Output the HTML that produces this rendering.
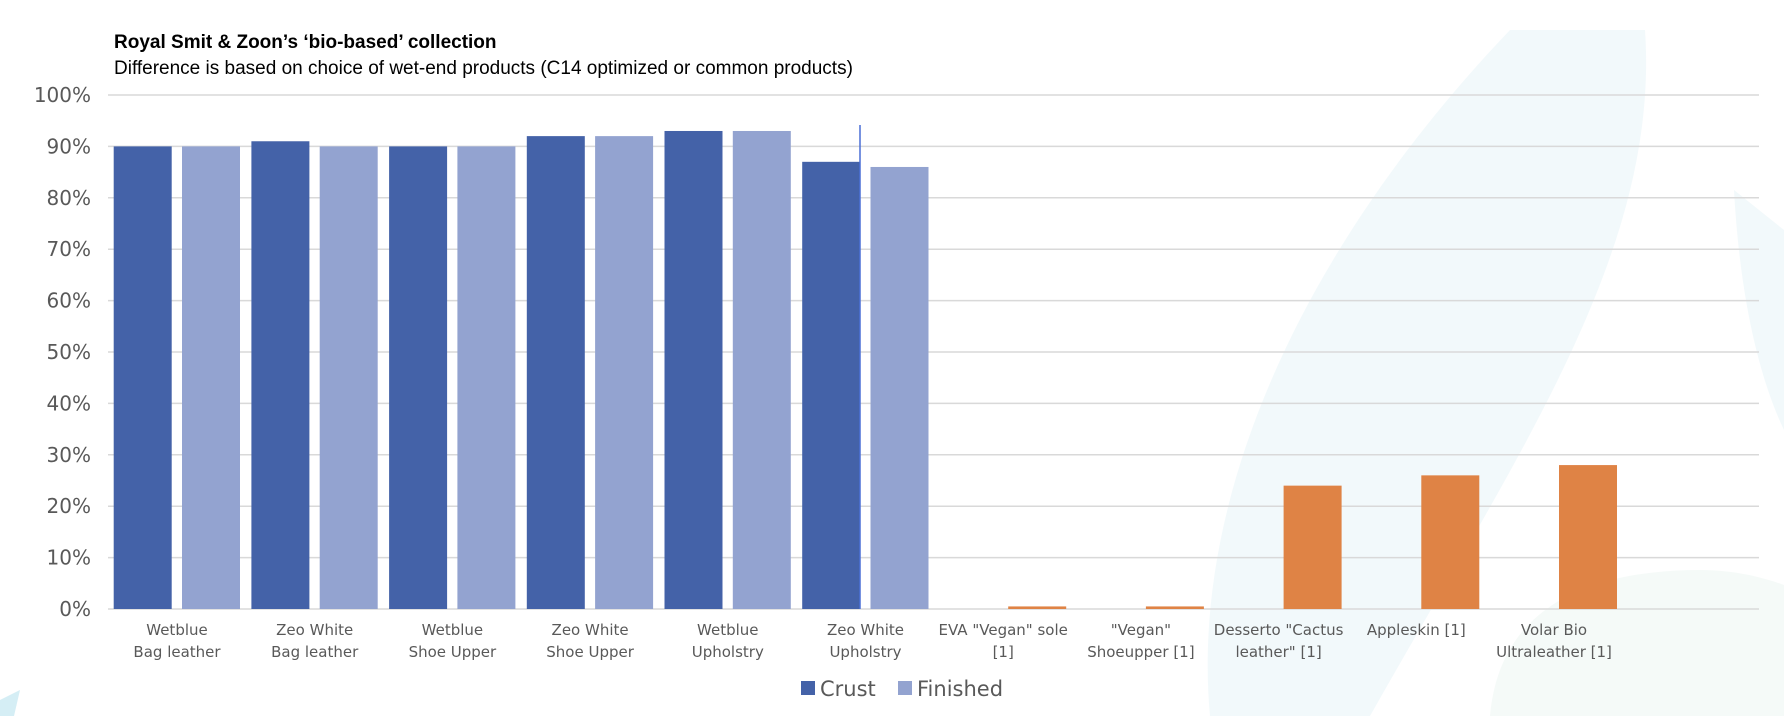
<!DOCTYPE html>
<html><head><meta charset="utf-8"><style>
html,body{margin:0;padding:0;background:#fff;width:1784px;height:716px;overflow:hidden;}
svg{display:block;font-family:"DejaVu Sans","Liberation Sans",sans-serif;}
</style></head><body>
<svg id="chart" width="1784" height="716" viewBox="0 0 1784 716" xmlns="http://www.w3.org/2000/svg">
<g>
<path d="M1510 30 L1645 30 C1660 250 1520 450 1370 716 L1210 716 C1190 500 1300 250 1510 30 Z" fill="#eaf5f9" opacity="0.6"/>
<path d="M1734 190 L1784 230 L1784 430 C1760 380 1740 300 1734 190 Z" fill="#eaf5f9" opacity="0.6"/>
<path d="M1490 716 C1500 600 1600 570 1700 570 C1740 570 1770 580 1784 585 L1784 716 Z" fill="#eef6f3" opacity="0.6"/>
<path d="M0 700 L20 690 L14 716 L0 716 Z" fill="#d5eef5"/>
</g>
<text x="114" y="48" font-size="19" font-weight="bold" fill="#000" font-family="Liberation Sans, sans-serif">Royal Smit &amp; Zoon’s ‘bio-based’ collection</text>
<text x="114" y="74" font-size="19" fill="#000" font-family="Liberation Sans, sans-serif">Difference is based on choice of wet-end products (C14 optimized or common products)</text>
<g id="grid"></g><g id="bars"></g><g id="xlabels"></g>
<line x1="860" y1="125" x2="860" y2="609" stroke="#4a6fd6" stroke-width="1.5"/>
<g>
<rect x="801" y="681" width="14" height="14" fill="#4462a8"/>
<text x="820" y="696" font-size="21" fill="#595959">Crust</text>
<rect x="898" y="681" width="14" height="14" fill="#93a3d0"/>
<text x="917" y="696" font-size="21" fill="#595959">Finished</text>
</g>
</svg>
<script>
const categories=[["Wetblue","Bag leather"],["Zeo White","Bag leather"],["Wetblue","Shoe Upper"],["Zeo White","Shoe Upper"],["Wetblue","Upholstry"],["Zeo White","Upholstry"],["EVA \"Vegan\" sole","[1]"],["\"Vegan\"","Shoeupper [1]"],["Desserto \"Cactus","leather\" [1]"],["Appleskin [1]",""],["Volar Bio","Ultraleather [1]"]];
const crust=[90,91,90,92,93,87,null,null,null,null,null];
const finished=[90,90,90,92,93,86,0.5,0.5,24,26,28];
const yTicks=[0,10,20,30,40,50,60,70,80,90,100];
const NS="http://www.w3.org/2000/svg";
const y0=609,yTop=95,left=108,catW=137.7,barW=58;
function y(v){return y0-(v/100)*(y0-yTop);}
function xc(i){return left+i*catW;}
function mk(tag,attrs,parent){const e=document.createElementNS(NS,tag);for(const k in attrs)e.setAttribute(k,attrs[k]);parent.appendChild(e);return e;}
const grid=document.getElementById('grid'),bars=document.getElementById('bars'),xl=document.getElementById('xlabels');
yTicks.forEach(t=>{
 const l=mk('line',{x1:left,x2:1759,y1:y(t),y2:y(t),stroke:'#d9d9d9','stroke-width':1.5},grid);
 
 
 const tx=mk('text',{x:91,y:y(t)+7,'text-anchor':'end','font-size':20,fill:'#595959'},grid);
 tx.textContent=t+'%';
 
 
});
categories.forEach((c,i)=>{
 if(crust[i]!=null){
  const r=mk('rect',{x:xc(i)+5.7,y:y(crust[i]),width:barW,height:y0-y(crust[i]),fill:'#4462a8'},bars);
  
  
 }
 const orange=i>=6;
 const r2=mk('rect',{x:xc(i)+74,y:y(finished[i]),width:barW,height:y0-y(finished[i]),fill:orange?'#df8345':'#93a3d0'},bars);
 
 
 c.forEach((ln,k)=>{
  const t=mk('text',{x:xc(i)+69,y:635+k*22,'text-anchor':'middle','font-size':15,fill:'#595959'},xl);
  t.textContent=ln;
  
  
 });
});
</script>
</body></html>
